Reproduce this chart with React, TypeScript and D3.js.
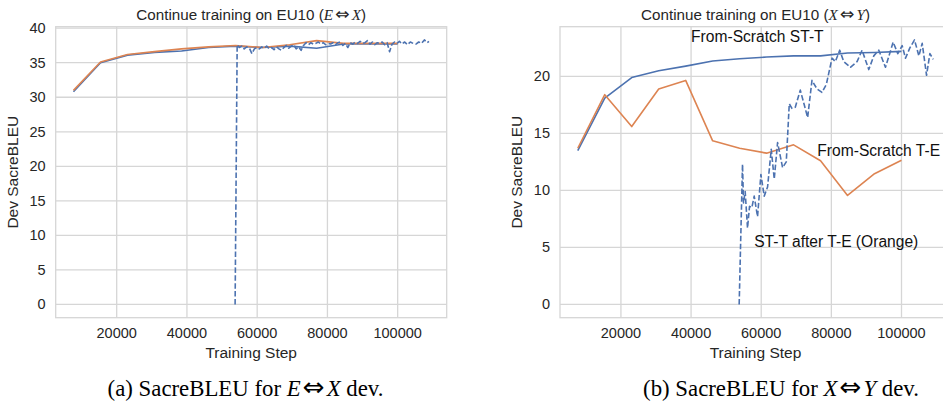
import React from 'react';
import * as d3 from 'd3';

// evaluation checkpoints of the from-scratch runs
const evalSteps = [7692, 15385, 23077, 30769, 38462, 46154, 53846, 61538, 69231, 76923, 84615, 92308, 100000];

// (a) E<->X
const exBlue = [30.8, 35.0, 36.1, 36.5, 36.7, 37.2, 37.4, 37.2, 37.4, 37.1, 37.7, 37.7, 37.7];
const exOrange = [31.0, 35.1, 36.2, 36.6, 37.0, 37.3, 37.5, 37.2, 37.6, 38.2, 37.8, 37.8, 37.8];
const exContSteps = [53714, 54300, 54900, 55600, 56300, 57000, 57800, 58500, 59200, 59900, 60600, 61300, 62000, 62700, 63400,
  64100, 64800, 65500, 66200, 66900, 67600, 68300, 69000, 69700, 70400, 71100, 71800, 72500, 73200, 73900, 74600, 75300,
  76000, 76700, 77400, 78100, 78800, 79500, 80200, 80900, 81600, 82300, 83000, 83700, 84400, 85100, 85800, 86500, 87200,
  87900, 88600, 89300, 90000, 90700, 91400, 92100, 92800, 93500, 94200, 94900, 95600, 96300, 97000, 97700, 98400, 99100,
  99800, 100500, 101200, 102000, 102800, 103600, 104400, 105200, 106000, 106800, 107600, 108400, 108900];
const exContBleu = [0, 37.6, 37.2, 37.4, 37.0, 37.3, 37.1, 36.3, 37.0, 37.2, 37.0, 37.3, 37.1, 37.4, 37.0,
  37.2, 36.9, 37.3, 37.0, 36.8, 37.2, 37.5, 37.1, 37.4, 37.6, 37.0, 37.3, 36.8, 37.5, 37.9, 37.6, 37.9,
  37.7, 37.8, 38.0, 37.7, 37.9, 37.6, 37.8, 37.7, 37.9, 37.6, 37.9, 38.0, 37.5, 37.8, 37.2, 37.9, 37.7,
  38.0, 37.8, 38.1, 37.8, 37.9, 38.2, 37.7, 38.0, 37.6, 37.9, 37.8, 38.0, 37.6, 37.9, 36.6, 37.7, 38.0,
  37.8, 38.1, 37.7, 38.0, 37.6, 38.0, 37.8, 37.7, 38.0, 37.8, 38.3, 37.9, 38.1];

// (b) X<->Y
const xyST = [13.5, 18.1, 19.9, 20.5, 20.9, 21.35, 21.55, 21.7, 21.8, 21.8, 22.05, 22.1, 22.2];
const xyTE = [13.7, 18.4, 15.6, 18.9, 19.65, 14.35, 13.7, 13.27, 14.0, 12.6, 9.56, 11.47, 12.65];
const xyContSteps = [53714, 54667, 54952, 55429, 56095, 56667, 57333, 58000, 58952, 59905, 60857, 61810, 62857, 63714,
  64667, 66095, 67143, 68000, 68762, 69714, 71143, 73238, 74476, 75905, 77333, 78571, 80190, 81143, 82381, 83524,
  85429, 87333, 88762, 90667, 92095, 93524, 95429, 97619, 98952, 100190, 101143, 102381, 103714, 104952, 105905,
  107143, 108095, 109048];
const xyContBleu = [0, 12.3, 8.9, 9.9, 6.7, 8.6, 8.5, 9.5, 7.7, 11.4, 9.5, 10.3, 13.6, 11.0,
  14.2, 12.0, 12.5, 17.6, 17.2, 17.3, 18.8, 16.4, 19.65, 18.9, 18.6, 19.3, 21.6, 21.3, 22.3, 21.3,
  20.8, 21.3, 22.3, 20.6, 21.8, 22.3, 20.8, 23.0, 22.0, 22.7, 21.6, 22.5, 23.2, 21.8, 22.9,
  20.1, 22.0, 21.5];

const xTicks = [20000, 40000, 60000, 80000, 100000];
const yTicksEX = [0, 5, 10, 15, 20, 25, 30, 35, 40];
const yTicksXY = [0, 5, 10, 15, 20];

const BLUE = '#4c72b0';
const ORANGE = '#dd8452';
const GRID = '#d6d6d6';
const INK = '#262626';
const SANS = '"Liberation Sans", Arial, sans-serif';
const SERIF = '"Liberation Serif", "Times New Roman", serif';

type Pt = [number, number];
const zip = (xs: number[], ys: number[]): Pt[] => xs.map((x, i) => [x, ys[i]]);

// matplotlib style auto limits with 5% margin
const padded = (vals: number[]) => {
  const [lo, hi] = d3.extent(vals) as [number, number];
  const m = (hi - lo) * 0.05;
  return [lo - m, hi + m];
};

const MathPair = ({ a, b }: { a: string; b: string }) => (
  <>
    <tspan fontFamily={SERIF} fontStyle="italic">{a}</tspan>
    <tspan fontFamily='"DejaVu Sans", sans-serif' fontSize="1.15em" dx="2">{'\u21D4'}</tspan>
    <tspan fontFamily={SERIF} fontStyle="italic" dx="2">{b}</tspan>
  </>
);

const Panel = ({ left, right, yTicks, series, title, notes }: any) => {
  const top = 26.7, bottom = 317.7;
  const allX = series.flatMap((s: any) => s.pts.map((p: Pt) => p[0]));
  const allY = series.flatMap((s: any) => s.pts.map((p: Pt) => p[1]));
  const x = d3.scaleLinear().domain(padded(allX)).range([left, right]);
  const y = d3.scaleLinear().domain(padded(allY)).range([bottom, top]);
  const line = d3.line<Pt>().x(d => x(d[0])).y(d => y(d[1]));

  return (
    <g>
      {xTicks.map(t => (
        <line key={'gx' + t} x1={x(t)} x2={x(t)} y1={top} y2={bottom} stroke={GRID} strokeWidth={1.3} />
      ))}
      {yTicks.map((t: number) => (
        <line key={'gy' + t} x1={left} x2={right} y1={y(t)} y2={y(t)} stroke={GRID} strokeWidth={1.3} />
      ))}
      <rect x={left} y={top} width={right - left} height={bottom - top} fill="none" stroke={GRID} strokeWidth={1.3} />

      {series.map((s: any, i: number) => (
        <path key={i} d={line(s.pts) || ''} fill="none" stroke={s.color} strokeWidth={1.6}
          strokeDasharray={s.dashed ? '5.5,2.4' : undefined} strokeLinejoin="round" />
      ))}

      {xTicks.map(t => (
        <text key={'tx' + t} x={x(t)} y={338} textAnchor="middle" fontSize={14.5} fill={INK} fontFamily={SANS}>{t}</text>
      ))}
      {yTicks.map((t: number) => (
        <text key={'ty' + t} x={left - 10} y={y(t) + 5} textAnchor="end" fontSize={14.5} fill={INK} fontFamily={SANS}>{t}</text>
      ))}
      <text x={(left + Math.min(right, 951)) / 2} y={357.5} textAnchor="middle" fontSize={15.5} fill={INK} fontFamily={SANS}>Training Step</text>
      <text transform={`translate(${left - 38},${(top + bottom) / 2}) rotate(-90)`} textAnchor="middle" fontSize={15.5} fill={INK} fontFamily={SANS}>Dev SacreBLEU</text>
      <text x={(left + right) / 2} y={20} textAnchor="middle" fontSize={15.2} fill={INK} fontFamily={SANS}>
        Continue training on EU10 (<MathPair a={title[0]} b={title[1]} />)
      </text>
      {(notes || []).map((n: any, i: number) => (
        <text key={'n' + i} x={x(n.step)} y={y(n.bleu)} fontSize={15.6} fill="#111" fontFamily={SANS}>{n.label}</text>
      ))}
    </g>
  );
};

export default function App() {
  const exSeries = [
    { pts: zip(evalSteps, exBlue), color: BLUE },
    { pts: zip(evalSteps, exOrange), color: ORANGE },
    { pts: zip(exContSteps, exContBleu), color: BLUE, dashed: true },
  ];
  const xySeries = [
    { pts: zip(evalSteps, xyST), color: BLUE },
    { pts: zip(evalSteps, xyTE), color: ORANGE },
    { pts: zip(xyContSteps, xyContBleu), color: BLUE, dashed: true },
  ];
  const notes = [
    { step: 40000, bleu: 23, label: 'From-Scratch ST-T' },
    { step: 76000, bleu: 13, label: 'From-Scratch T-E' },
    { step: 58000, bleu: 5, label: 'ST-T after T-E (Orange)' },
  ];
  return (
    <div style={{ position: 'absolute', left: 0, top: 0 }}>
      <svg width={943} height={402} style={{ display: 'block', background: '#fff' }}>
        <Panel left={55.7} right={446.7} yTicks={yTicksEX} series={exSeries} title={['E', 'X']} />
        <Panel left={560} right={951} yTicks={yTicksXY} series={xySeries} title={['X', 'Y']} notes={notes} />
        <text x={245.5} y={396} textAnchor="middle" fontSize={22.8} fill="#000" fontFamily={SERIF}>
          (a) SacreBLEU for <MathPair a="E" b="X" /> dev.
        </text>
        <text x={781} y={396} textAnchor="middle" fontSize={22.8} fill="#000" fontFamily={SERIF}>
          (b) SacreBLEU for <MathPair a="X" b="Y" /> dev.
        </text>
      </svg>
    </div>
  );
}
